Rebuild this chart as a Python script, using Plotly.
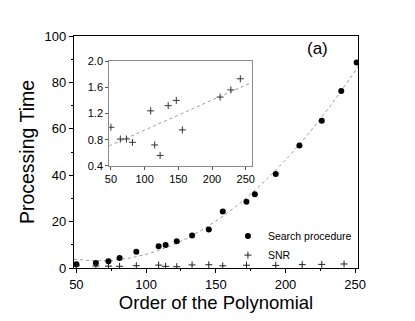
import numpy as np
import plotly.graph_objects as go

# ── Data ─────────────────────────────────────────────────────────────────────

order_search = [50, 64, 73, 81, 93, 109, 114, 122, 133, 145, 155, 172, 178, 193, 210, 226, 240, 251]
time_search = [1.6, 2.2, 2.9, 4.3, 7.0, 9.4, 9.9, 11.5, 14.0, 16.6, 24.3, 28.6, 31.8, 40.5, 52.8, 63.5, 76.3, 88.6]

order_snr_main = [50, 64, 73, 81, 93, 109, 114, 122, 133, 145, 155, 172, 193, 212, 226, 242]
time_snr_main = [0.99, 0.81, 0.81, 0.76, 1.0, 1.24, 0.72, 0.56, 1.32, 1.40, 0.95, 1.2, 1.1, 1.45, 1.56, 1.73]

order_snr_inset = [50, 64, 73, 82, 109, 115, 123, 135, 147, 156, 212, 228, 242]
time_snr_inset = [0.99, 0.81, 0.81, 0.76, 1.24, 0.72, 0.56, 1.32, 1.40, 0.95, 1.45, 1.56, 1.73]

x_ticks = [50, 100, 150, 200, 250]
y_ticks = [0, 20, 40, 60, 80, 100]
inset_y_ticks = [0.4, 0.8, 1.2, 1.6, 2.0]

FONT = "Liberation Sans, Arial, sans-serif"
FIT_COLOR = "#9a9a9a"

# fitted curves (quadratic for the main plot, linear for the inset)
quad = np.polyfit(order_search, time_search, 2)
xq = np.linspace(48.3, 252, 120)
lin = np.polyfit(order_snr_inset, time_snr_inset, 1)
xl = np.array([47.5, 259])

fig = go.Figure()

fig.add_trace(go.Scatter(
    x=xq, y=np.polyval(quad, xq), mode="lines",
    line=dict(color=FIT_COLOR, width=1, dash="dot"),
    showlegend=False, hoverinfo="skip",
))
fig.add_trace(go.Scatter(
    x=order_search, y=time_search, mode="markers", name="Search procedure",
    marker=dict(symbol="circle", size=6, color="black"),
))
fig.add_trace(go.Scatter(
    x=order_snr_main, y=time_snr_main, mode="markers", name="SNR",
    marker=dict(symbol="cross-thin", size=5, line=dict(color="#222", width=1)),
))

# inset
fig.add_trace(go.Scatter(
    x=xl, y=np.polyval(lin, xl), mode="lines", xaxis="x2", yaxis="y2",
    line=dict(color=FIT_COLOR, width=1, dash="dot"),
    showlegend=False, hoverinfo="skip",
))
fig.add_trace(go.Scatter(
    x=order_snr_inset, y=time_snr_inset, mode="markers", xaxis="x2", yaxis="y2",
    marker=dict(symbol="cross-thin", size=5, line=dict(color="#333", width=1)),
    showlegend=False,
))

axis_common = dict(
    showgrid=False, zeroline=False, showline=True, mirror=True,
    linecolor="black", linewidth=1.3, ticks="outside", tickcolor="black",
    ticklen=4, tickfont=dict(size=13, color="black"),
)

# page body has an 8px margin, so the figure is shrunk by 8px on each axis
fig.update_layout(
    width=407, height=313,
    paper_bgcolor="white", plot_bgcolor="white",
    font=dict(family=FONT, color="black"),
    margin=dict(l=66, r=57, t=28, b=53),
    xaxis=dict(
        **axis_common, range=[48.3, 252], tickvals=x_ticks,
        minor=dict(ticks="outside", ticklen=2, dtick=25, tick0=25, tickcolor="black"),
        title=dict(text="Order of the Polynomial", font=dict(size=18.5), standoff=3),
    ),
    yaxis=dict(
        **axis_common, range=[0, 100], tickvals=y_ticks,
        minor=dict(ticks="outside", ticklen=2, dtick=10, tickcolor="black"),
        title=dict(text="Processing Time", font=dict(size=19.5), standoff=4),
    ),
    xaxis2=dict(
        domain=[0.124, 0.626], anchor="y2", range=[47.5, 259], tickvals=x_ticks,
        showgrid=False, zeroline=False, showline=True, mirror=True,
        linecolor="#8a8a8a", linewidth=1, ticks="outside", ticklen=3,
        tickcolor="#555", tickfont=dict(size=11, color="black"),
    ),
    yaxis2=dict(
        domain=[0.44, 0.892], anchor="x2", range=[0.4, 2.0], tickvals=inset_y_ticks,
        tickformat=".1f",
        showgrid=False, zeroline=False, showline=True, mirror=True,
        linecolor="#8a8a8a", linewidth=1, ticks="outside", ticklen=3,
        tickcolor="#555", tickfont=dict(size=11, color="black"),
    ),
    legend=dict(
        x=0.542, y=0.2, xanchor="left", yanchor="top",
        bgcolor="rgba(0,0,0,0)", font=dict(size=10.5),
        tracegroupgap=0,
    ),
    annotations=[dict(
        text="(a)", xref="paper", yref="paper", x=0.859, y=0.948,
        xanchor="center", yanchor="middle",
        showarrow=False, font=dict(size=17),
    )],
)

fig.write_html("out.html")
